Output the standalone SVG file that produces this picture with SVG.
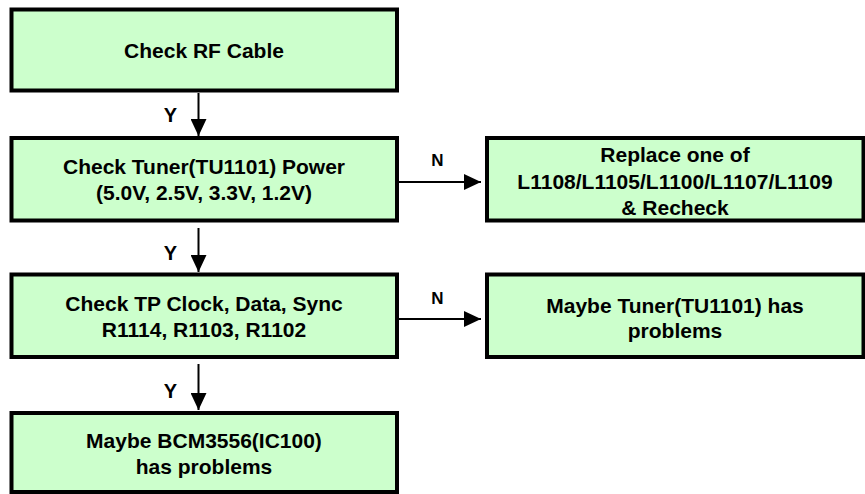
<svg xmlns="http://www.w3.org/2000/svg" width="865" height="494" viewBox="0 0 865 494">
  <style>
    .box { fill: #CCFFCC; stroke: #000000; stroke-width: 4; }
    .txt { font-family: "Liberation Sans", Arial, sans-serif; font-weight: bold; font-size: 21px; fill: #000000; text-anchor: middle; }
    .lbl-y { font-family: "Liberation Sans", Arial, sans-serif; font-weight: bold; font-size: 20px; fill: #000000; text-anchor: middle; }
    .lbl-n { font-family: "Liberation Sans", Arial, sans-serif; font-weight: bold; font-size: 17px; fill: #000000; text-anchor: middle; }
    .wire { stroke: #000000; stroke-width: 2; fill: none; marker-end: url(#arrow); }
  </style>
  <defs>
    <marker id="arrow" markerUnits="userSpaceOnUse" markerWidth="17" markerHeight="16" viewBox="0 0 17 16" refX="17" refY="8" orient="auto">
      <path d="M0,0 L17,8 L0,16 Z" fill="#000000"/>
    </marker>
  </defs>
  <rect width="865" height="494" fill="#FFFFFF"/>

  <g id="connectors">
    <line class="wire" x1="198.5" y1="93" x2="198.5" y2="136"/>
    <line class="wire" x1="198.5" y1="228" x2="198.5" y2="272"/>
    <line class="wire" x1="198.5" y1="364" x2="198.5" y2="410"/>
    <line class="wire" x1="398" y1="182" x2="481" y2="182"/>
    <line class="wire" x1="398" y1="319" x2="481" y2="319"/>
    <text class="lbl-y" x="170.5" y="121.5">Y</text>
    <text class="lbl-y" x="170.5" y="259.5">Y</text>
    <text class="lbl-y" x="170.5" y="397.5">Y</text>
    <text class="lbl-n" x="437.5" y="166">N</text>
    <text class="lbl-n" x="437.5" y="303.5">N</text>
  </g>

  <g id="check-rf-cable">
    <rect class="box" x="11.5" y="9.5" width="385.5" height="81"/>
    <text class="txt" x="204" y="57.5">Check RF Cable</text>
  </g>

  <g id="check-tuner-power">
    <rect class="box" x="11.5" y="138" width="385.5" height="82.5"/>
    <text class="txt" x="204" y="174">Check Tuner(TU1101) Power</text>
    <text class="txt" x="204" y="200">(5.0V, 2.5V, 3.3V, 1.2V)</text>
  </g>

  <g id="replace-inductor">
    <rect class="box" x="487" y="138" width="376.5" height="82.5"/>
    <text class="txt" x="675" y="161.5">Replace one of</text>
    <text class="txt" x="675" y="188.5">L1108/L1105/L1100/L1107/L1109</text>
    <text class="txt" x="675" y="215">&amp; Recheck</text>
  </g>

  <g id="check-tp-signals">
    <rect class="box" x="11.5" y="274.5" width="385.5" height="82.5"/>
    <text class="txt" x="204" y="310.5">Check TP Clock, Data, Sync</text>
    <text class="txt" x="204" y="337">R1114, R1103, R1102</text>
  </g>

  <g id="tuner-problem">
    <rect class="box" x="487" y="274.5" width="376.5" height="82.5"/>
    <text class="txt" x="675" y="312.5">Maybe Tuner(TU1101) has</text>
    <text class="txt" x="675" y="338">problems</text>
  </g>

  <g id="bcm-problem">
    <rect class="box" x="11.5" y="413" width="385.5" height="79"/>
    <text class="txt" x="204" y="447.5">Maybe BCM3556(IC100)</text>
    <text class="txt" x="204" y="473.5">has problems</text>
  </g>
</svg>
